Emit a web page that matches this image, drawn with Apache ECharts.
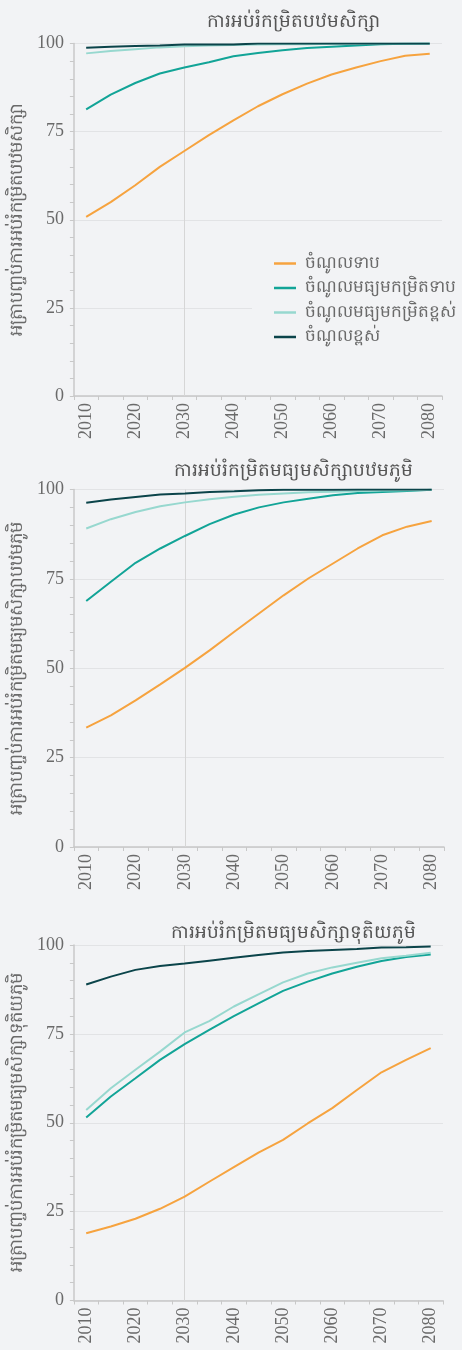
<!DOCTYPE html>
<html>
<head>
<meta charset="utf-8">
<script src="https://cdn.jsdelivr.net/npm/echarts@6/dist/echarts.min.js"></script>
<style>
  html, body { margin: 0; padding: 0; background: #f2f3f5; }
  #chart { width: 462px; height: 1350px; }
</style>
</head>
<body>
<div id="chart"></div>
<script>
const years = ['2010', '2015', '2020', '2025', '2030', '2035', '2040', '2045', '2050', '2055', '2060', '2065', '2070', '2075', '2080']
const groupNames = ['ចំណូលទាប', 'ចំណូលមធ្យមកម្រិតទាប', 'ចំណូលមធ្យមកម្រិតខ្ពស់', 'ចំណូលខ្ពស់']
const panelTitles = [
  'ការអប់រំកម្រិតបឋមសិក្សា',
  'ការអប់រំកម្រិតមធ្យមសិក្សាបឋមភូមិ',
  'ការអប់រំកម្រិតមធ្យមសិក្សាទុតិយភូមិ',
]
const axisNames = [
  'អត្រាបញ្ចប់ការអប់រំកម្រិតបឋមសិក្សា',
  'អត្រាបញ្ចប់ការអប់រំកម្រិតមធ្យមសិក្សាបឋមភូមិ',
  'អត្រាបញ្ចប់ការអប់រំកម្រិតមធ្យមសិក្សាទុតិយភូមិ',
]

// primary
const primaryLow = [50.8, 55.0, 59.8, 65.0, 69.5, 74.0, 78.2, 82.2, 85.6, 88.6, 91.2, 93.2, 95.0, 96.5, 97.1]
const primaryLowerMid = [81.3, 85.5, 88.8, 91.5, 93.2, 94.7, 96.4, 97.3, 98.1, 98.7, 99.1, 99.4, 99.8, 99.9, 100]
const primaryUpperMid = [97.2, 97.9, 98.4, 98.9, 99.2, 99.4, 99.6, 99.7, 99.8, 99.8, 99.9, 99.9, 100, 100, 100]
const primaryHigh = [98.8, 99.1, 99.3, 99.4, 99.7, 99.7, 99.7, 100, 100, 100, 100, 100, 100, 100, 100]

// lower secondary
const lowerSecLow = [33.4, 36.8, 41.0, 45.5, 50.1, 55.0, 60.2, 65.3, 70.4, 75.1, 79.3, 83.5, 87.2, 89.6, 91.2]
const lowerSecLowerMid = [68.8, 74.2, 79.5, 83.5, 87.0, 90.3, 93.0, 95.0, 96.4, 97.4, 98.4, 99.0, 99.3, 99.6, 99.9]
const lowerSecUpperMid = [89.1, 91.7, 93.7, 95.3, 96.4, 97.3, 98.0, 98.5, 98.9, 99.2, 99.4, 99.6, 99.7, 99.8, 99.9]
const lowerSecHigh = [96.3, 97.2, 97.9, 98.6, 98.9, 99.3, 99.5, 99.8, 99.9, 99.9, 99.9, 100, 100, 100, 100]

// upper secondary
const upperSecLow = [18.9, 20.8, 23.0, 25.8, 29.2, 33.4, 37.5, 41.6, 45.2, 49.8, 54.1, 59.2, 64.2, 67.7, 71.0]
const upperSecLowerMid = [51.5, 57.4, 62.5, 67.7, 72.1, 76.1, 80.0, 83.6, 87.1, 89.7, 92.0, 93.9, 95.5, 96.6, 97.3]
const upperSecUpperMid = [53.6, 59.7, 64.9, 70.0, 75.4, 78.6, 82.7, 86.1, 89.5, 92.0, 93.7, 95.0, 96.3, 97.0, 97.8]
const upperSecHigh = [88.9, 91.1, 93.0, 94.1, 94.8, 95.6, 96.4, 97.2, 97.9, 98.3, 98.6, 98.9, 99.3, 99.4, 99.6]

const yTicks = [0, 25, 50, 75, 100]
const markYear = '2030'

const panels = [
  [primaryLow, primaryLowerMid, primaryUpperMid, primaryHigh],
  [lowerSecLow, lowerSecLowerMid, lowerSecUpperMid, lowerSecHigh],
  [upperSecLow, upperSecLowerMid, upperSecUpperMid, upperSecHigh],
]

const colors = ['#f6a33f', '#12a497', '#97d8cf', '#0b444a']
const textColor = '#6a6a6a'
const axisColor = '#c8c8c8'
const font = "'Liberation Serif', 'Noto Sans', serif"

// plot boxes in px: top, bottom(0 line), left, right
const boxes = [
  { top: 43.5, bottom: 396, left: 72.5, right: 442 },
  { top: 489.5, bottom: 847, left: 71, right: 444 },
  { top: 945, bottom: 1300.5, left: 71, right: 443 },
]

const chart = echarts.init(document.getElementById('chart'), null, { renderer: 'canvas' })

const grid = boxes.map((b) => ({
  left: b.left, top: b.top, width: b.right - b.left, height: b.bottom - b.top,
}))

const xAxis = boxes.map((b, i) => ({
  type: 'category',
  gridIndex: i,
  data: years,
  boundaryGap: true,
  axisLine: { lineStyle: { color: axisColor, width: 1.5 } },
  axisTick: { show: true, interval: 0, length: 4, lineStyle: { color: axisColor } },
  axisLabel: {
    interval: 1, rotate: 90, margin: 7, color: textColor, fontSize: 18, fontFamily: font,
  },
  splitLine: { show: false },
}))

const yAxis = boxes.map((b, i) => ({
  type: 'value',
  gridIndex: i,
  min: yTicks[0],
  max: yTicks[yTicks.length - 1],
  interval: 25,
  name: axisNames[i],
  nameLocation: 'middle',
  nameGap: 42,
  nameTextStyle: { color: textColor, fontSize: 18, fontFamily: font },
  axisLine: { show: true, lineStyle: { color: axisColor, width: 1.5 } },
  axisTick: { show: true, length: 4, lineStyle: { color: axisColor } },
  minorTick: { show: true, splitNumber: 5, length: 4, lineStyle: { color: axisColor } },
  axisLabel: { margin: 10, color: textColor, fontSize: 18, fontFamily: font },
  splitLine: { show: true, lineStyle: { color: '#e2e3e5', width: 1 } },
}))

const series = []
panels.forEach((data, p) => {
  data.forEach((vals, s) => {
    const item = {
      name: groupNames[s],
      type: 'line',
      xAxisIndex: p,
      yAxisIndex: p,
      data: vals,
      showSymbol: false,
      symbol: 'none',
      smooth: false,
      z: 3 + s,
      lineStyle: { color: colors[s], width: 2 },
      itemStyle: { color: colors[s] },
    }
    if (s === 0) {
      item.markLine = {
        silent: true,
        symbol: 'none',
        label: { show: false },
        lineStyle: { color: '#d6d6d6', type: 'solid', width: 1 },
        data: [{ xAxis: markYear }],
        z: 1,
      }
    }
    series.push(item)
  })
})

chart.setOption({
  backgroundColor: '#f2f3f5',
  animation: false,
  title: panelTitles.map((t, i) => ({
    text: t,
    left: 288,
    textAlign: 'center',
    top: [8, 457, 919][i],
    textStyle: { color: '#555', fontSize: 18.5, fontWeight: 'normal', fontFamily: font },
  })),
  legend: {
    data: groupNames,
    orient: 'vertical',
    left: 252,
    top: 247,
    padding: [6, 8, 6, 22],
    backgroundColor: '#f2f3f5',
    icon: 'rect',
    itemWidth: 22,
    itemHeight: 2.5,
    itemGap: 3.5,
    textStyle: { color: textColor, fontSize: 17, lineHeight: 21, fontFamily: font, padding: [0, 0, 0, 4] },
  },
  grid,
  xAxis,
  yAxis,
  series,
})
</script>
</body>
</html>
